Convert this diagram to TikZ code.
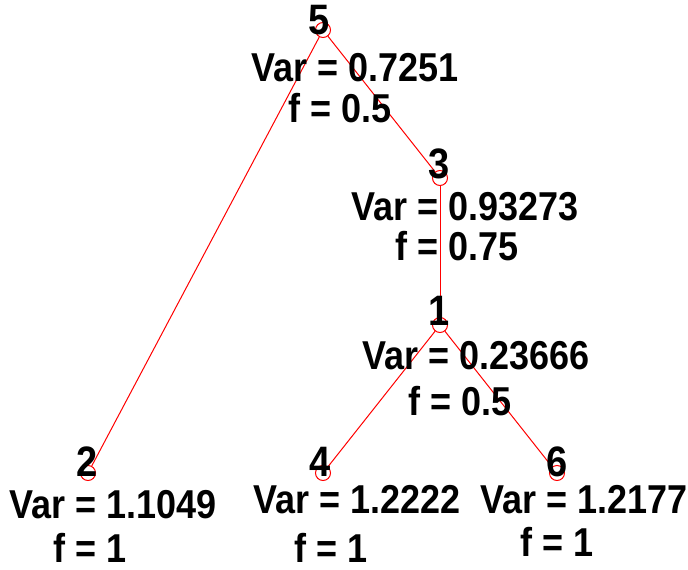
\documentclass[tikz,border=0pt]{standalone}
\usepackage{graphicx}
\usepackage{fontspec}
\setmainfont{Liberation Sans}
\newcommand\talltxt[1]{\scalebox{1}[1.12]{#1}}
\begin{document}
\begin{tikzpicture}[x=1pt,y=-1pt,
  vert/.style={circle,draw=red,line width=1pt,minimum size=15pt,inner sep=0pt},
  edge/.style={red,line width=1pt},
  lbl/.style={font=\fontsize{36}{40}\selectfont\bfseries,inner sep=0pt,text=black},
  num/.style={font=\fontsize{38}{40}\selectfont\bfseries,inner sep=0pt,text=black}]
\useasboundingbox (0,0) rectangle (688,570);
% vertices
\node[vert] (v5) at (323,30) {};
\node[vert] (v3) at (440,178) {};
\node[vert] (v1) at (440,325) {};
\node[vert] (v2) at (88,473) {};
\node[vert] (v4) at (323,473) {};
\node[vert] (v6) at (557,473) {};
% edges
\draw[edge] (v5) -- (v2);
\draw[edge] (v5) -- (v3);
\draw[edge] (v3) -- (v1);
\draw[edge] (v1) -- (v4);
\draw[edge] (v1) -- (v6);
% labels
\node[num] (n5) at (319,20) {\talltxt{5}};
\node[lbl] (a5) at (355,68) {\talltxt{Var = 0.7251}};
\node[lbl] (b5) at (340,108) {\talltxt{f = 0.5}};
\node[num] (n3) at (439,164) {\talltxt{3}};
\node[lbl] (a3) at (465,207) {\talltxt{Var = 0.93273}};
\node[lbl] (b3) at (457,246) {\talltxt{f = 0.75}};
\node[num] (n1) at (439,311) {\talltxt{1}};
\node[lbl] (a1) at (476,356) {\talltxt{Var = 0.23666}};
\node[lbl] (b1) at (460,401) {\talltxt{f = 0.5}};
\node[num] (n2) at (87,462) {\talltxt{2}};
\node[lbl] (a2) at (113,505) {\talltxt{Var = 1.1049}};
\node[lbl] (b2) at (90,548) {\talltxt{f = 1}};
\node[num] (n4) at (320,462) {\talltxt{4}};
\node[lbl] (a4) at (357,500) {\talltxt{Var = 1.2222}};
\node[lbl] (b4) at (331,548) {\talltxt{f = 1}};
\node[num] (n6) at (557,462) {\talltxt{6}};
\node[lbl] (a6) at (584,500) {\talltxt{Var = 1.2177}};
\node[lbl] (b6) at (557,542) {\talltxt{f = 1}};
\end{tikzpicture}
\end{document}
